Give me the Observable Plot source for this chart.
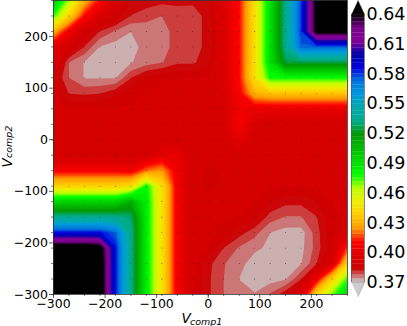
<!DOCTYPE html>
<html><head><meta charset="utf-8">
<script src="https://cdn.jsdelivr.net/npm/d3@7"></script>
<script src="https://cdn.jsdelivr.net/npm/@observablehq/plot@0.6"></script>
<style>
html,body{margin:0;padding:0;background:#fff;overflow:hidden}
#c{position:relative;width:407px;height:326px}
#c svg{position:absolute;left:0;top:0;background:transparent;font-family:"DejaVu Sans"}
</style></head><body><div id="c"></div>
<script>
const gridX=[-300,-270,-240,-210,-180,-150,-120,-90,-60,-30,0,30,60,90,120,150,180,210,240,270];
const gridY=[...gridX];
// rows of the surface, one per V_comp2 value; columns follow gridX
const r270=[.50,.465,.43,.41,.395,.386,.384,.3825,.3825,.382,.385,.395,.41,.445,.49,.535,.58,.645,.70,.72];
const r240=[.475,.44,.41,.395,.388,.381,.3785,.3775,.379,.3795,.3825,.395,.41,.445,.49,.535,.58,.645,.70,.72];
const r210=[.43,.405,.39,.381,.377,.3738,.376,.376,.379,.3795,.3825,.395,.41,.445,.49,.535,.58,.645,.645,.645];
const r180=[.40,.39,.381,.3735,.372,.372,.3755,.3765,.3785,.3795,.3825,.395,.41,.445,.49,.535,.575,.575,.575,.575];
const r150=[.395,.3775,.3735,.3715,.371,.3735,.3755,.3772,.3805,.3805,.384,.395,.41,.445,.49,.525,.525,.525,.525,.525];
const r120=[.386,.3775,.3735,.3735,.3735,.381,.386,.388,.389,.389,.389,.395,.41,.445,.478,.478,.478,.478,.478,.478];
const r90=[.389,.381,.3805,.381,.384,.388,.389,.39,.389,.389,.389,.393,.408,.43,.435,.435,.435,.435,.435,.435];
const r60=[.389,.389,.389,.389,.389,.389,.389,.389,.389,.389,.389,.393,.404,.403,.402,.402,.402,.402,.402,.402];
const r30=[.389,.389,.389,.389,.389,.389,.389,.389,.389,.389,.389,.392,.408,.394,.389,.389,.389,.389,.389,.389];
const r0=[.389,.389,.389,.389,.389,.389,.389,.389,.391,.389,.389,.391,.40,.391,.389,.389,.389,.389,.389,.389];
const rm30=[.389,.389,.389,.389,.389,.389,.391,.40,.402,.389,.389,.389,.389,.389,.389,.389,.389,.389,.389,.389];
const rm60=[.408,.408,.408,.408,.408,.405,.42,.425,.405,.39,.388,.389,.389,.389,.389,.389,.389,.389,.389,.389];
const rm90=[.44,.44,.44,.44,.44,.445,.48,.445,.405,.39,.388,.389,.389,.389,.389,.389,.389,.389,.389,.389];
const rm120=[.495,.495,.495,.495,.495,.51,.485,.445,.405,.39,.389,.389,.389,.389,.385,.3825,.3825,.385,.389,.389];
const rm150=[.535,.535,.535,.535,.535,.53,.485,.445,.405,.39,.389,.389,.389,.386,.3795,.3772,.3772,.381,.388,.389];
const rm180=[.585,.585,.585,.585,.575,.535,.485,.445,.405,.39,.389,.388,.383,.379,.3738,.372,.372,.3795,.388,.395];
const rm210=[.655,.655,.655,.65,.585,.535,.485,.445,.405,.39,.389,.3812,.377,.3745,.373,.372,.3725,.379,.388,.415];
const rm240=[.70,.70,.70,.655,.585,.535,.485,.445,.405,.39,.3825,.3778,.375,.372,.3715,.372,.3735,.381,.395,.44];
const rm270=[.72,.72,.70,.655,.585,.535,.485,.445,.405,.39,.382,.3775,.3737,.372,.372,.3735,.381,.405,.44,.475];
const rm300=[.72,.72,.70,.655,.585,.535,.485,.445,.405,.39,.382,.3775,.375,.374,.378,.384,.395,.44,.47,.495];
const rows=[rm300,rm270,rm240,rm210,rm180,rm150,rm120,rm90,rm60,rm30,r0,r30,r60,r90,r120,r150,r180,r210,r240,r270];

const xTicks=[-300,-200,-100,0,100,200];
const yTicks=[-300,-200,-100,0,100,200];
const cbTicks=[0.37,0.40,0.43,0.46,0.49,0.52,0.55,0.58,0.61,0.64];
const lo=0.37, hi=0.64, nBins=72, step=(hi-lo)/nBins;
const levels=d3.range(nBins+1).map(i=>+(lo+i*step).toFixed(5));
// reversed spectral colormap stops
const stopAt=[0,.05,.1,.15,.2,.25,.3,.35,.4,.45,.5,.55,.6,.65,.7,.75,.8,.85,.9,.95,1];
const stopColor=["#000000","#770088","#880099","#0000aa","#0000dd","#0077dd","#0099dd","#00aaaa","#00aa88","#009900","#00bb00","#00dd00","#00ff00","#bbff00","#eeee00","#ffcc00","#ff9900","#ff0000","#dd0000","#cc0000","#cccccc"];
const spectral=d3.scaleLinear().domain(stopAt).range(stopColor);
const levelColor=levels.map((l,i)=>i===nBins?"#000000":spectral(1-(i+.5)/nBins));
const colorOf=new Map(levels.map((l,i)=>[l,levelColor[i]]));

const points=gridY.flatMap(y=>gridX.map(x=>({x,y})));
const main=Plot.plot({
  width:407,height:326,marginLeft:53,marginRight:60,marginTop:0,marginBottom:32,
  style:{background:"transparent",fontFamily:"DejaVu Sans"},
  x:{domain:[-300,270],label:null},
  y:{domain:[-300,270],label:null},
  color:{type:"ordinal",domain:levels,range:levelColor},
  marks:[
    Plot.contour(rows.flat(),{width:20,height:20,x1:-315,x2:285,y1:-315,y2:285,thresholds:levels,fill:Plot.identity,clip:true}),
    Plot.dot(points,{x:"x",y:"y",r:.45,fill:"#111",stroke:null,clip:true}),
    Plot.frame({stroke:"#333",strokeWidth:.8}),
    Plot.axisX({ticks:gridX,tickSize:2,text:null,stroke:"#222",strokeWidth:.6,label:null}),
    Plot.axisY({ticks:gridY,tickSize:2,text:null,stroke:"#222",strokeWidth:.6,label:null}),
    Plot.axisX(xTicks,{tickSize:4,tickPadding:1,fontSize:12.5,fill:"#000",stroke:"#222",strokeWidth:.7,label:null}),
    Plot.axisY(yTicks,{tickSize:4,tickPadding:1.5,fontSize:12.5,fill:"#000",stroke:"#222",strokeWidth:.7,label:null}),
    Plot.text(["V"],{frameAnchor:"bottom",dx:-19,dy:28,fontSize:13.5,fontStyle:"italic",fill:"#000",textAnchor:"start",lineAnchor:"bottom"}),
    Plot.text(["comp1"],{frameAnchor:"bottom",dx:-10.5,dy:30,fontSize:9.5,fontStyle:"italic",fill:"#000",textAnchor:"start",lineAnchor:"bottom"}),
    Plot.text(["V"],{frameAnchor:"left",dx:-46,dy:20,rotate:-90,fontSize:13.5,fontStyle:"italic",fill:"#000",textAnchor:"start"}),
    Plot.text(["comp2"],{frameAnchor:"left",dx:-45,dy:10.5,rotate:-90,fontSize:9.5,fontStyle:"italic",fill:"#000",textAnchor:"start"})
  ]
});
const tipTop=[{x:0,y:hi},{x:1,y:hi},{x:.5,y:hi+.0141}];
const tipBottom=[{x:0,y:lo},{x:1,y:lo},{x:.5,y:lo-.0141}];
const bar=Plot.plot({
  width:407,height:326,marginLeft:351,marginRight:43,marginTop:14,marginBottom:44,
  style:{background:"transparent",fontFamily:"DejaVu Sans"},
  x:{domain:[0,1],axis:null},
  y:{domain:[lo,hi],label:null,axis:null},
  marks:[
    Plot.rect(levels.slice(0,nBins),{x1:0,x2:1,y1:d=>d,y2:d=>d+step+.0002,fill:d=>colorOf.get(d),inset:0}),
    Plot.line(tipTop,{x:"x",y:"y",fill:"#000",stroke:"#222",strokeWidth:.5}),
    Plot.line(tipBottom,{x:"x",y:"y",fill:"#cccccc",stroke:"#888",strokeWidth:.5}),
    Plot.ruleX([0,1],{stroke:"#555",strokeWidth:.7}),
    Plot.axisY(cbTicks,{anchor:"right",tickSize:0,tickPadding:2,fontSize:17.5,fill:"#000",tickFormat:d=>d.toFixed(2),label:null})
  ]
});
const c=document.getElementById("c");
c.append(main,bar);
</script></body></html>
